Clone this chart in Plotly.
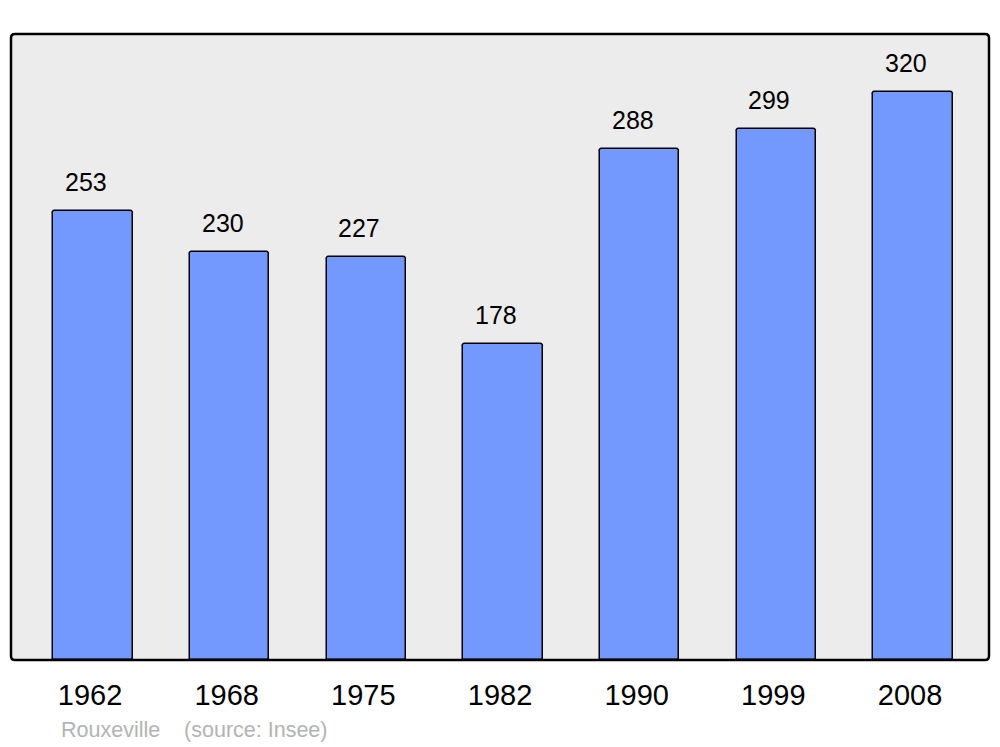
import plotly.graph_objects as go

years = ["1962", "1968", "1975", "1982", "1990", "1999", "2008"]
population = [253, 230, 227, 178, 288, 299, 320]
commune = "Rouxeville"
source = "(source: Insee)"

W, H = 1000, 747
L, R, T, B = 11, 11, 34, 87
FONT = "Liberation Sans, Arial, sans-serif"

fig = go.Figure()
fig.add_trace(go.Bar(
    x=years, y=population, width=0.58,
    marker=dict(color="#7399ff", line=dict(color="#000000", width=1.5), cornerradius=3),
    hoverinfo="skip",
))

for i, v in enumerate(population):
    fig.add_annotation(x=i, y=v, xref="x", yref="y", text=str(v), showarrow=False,
                       yanchor="bottom", yshift=13, xshift=-7,
                       font=dict(family=FONT, size=25, color="#000"))

# rounded frame around plotting area (paper coords)
pw, ph = W - L - R, H - T - B
rx, ry = 4 / pw, 4 / ph
path = (f"M {rx},0 L {1-rx},0 Q 1,0 1,{ry} L 1,{1-ry} Q 1,1 {1-rx},1 "
        f"L {rx},1 Q 0,1 0,{1-ry} L 0,{ry} Q 0,0 {rx},0 Z")
fig.add_shape(type="path", xref="paper", yref="paper", path=path,
              line=dict(color="#000000", width=2.5), layer="above")

fig.add_annotation(xref="paper", yref="paper", x=48 / pw, y=-(730 - (H - B)) / ph,
                   xanchor="left", yanchor="middle", showarrow=False,
                   text=f"{commune}&nbsp;&nbsp;&nbsp;&nbsp;{source}",
                   font=dict(family=FONT, size=21.5, color="#b3b3b3"))

fig.update_layout(
    width=W, height=H,
    margin=dict(l=L, r=R, t=T, b=B),
    paper_bgcolor="#ffffff", plot_bgcolor="#ececec",
    showlegend=False, bargap=0,
    xaxis=dict(type="category", range=[-0.600, 6.556], showgrid=False, zeroline=False,
               showline=False, ticks="", ticklabelstandoff=15, ticklabelshift=-3,
               tickfont=dict(family=FONT, size=29, color="#000")),
    yaxis=dict(range=[0, 352.7], showgrid=False, zeroline=False, showline=False,
               showticklabels=False, ticks=""),
)

fig.write_html("out.html", config={"displayModeBar": False},
               post_script="document.body.style.margin='0';document.body.style.overflow='hidden';")
